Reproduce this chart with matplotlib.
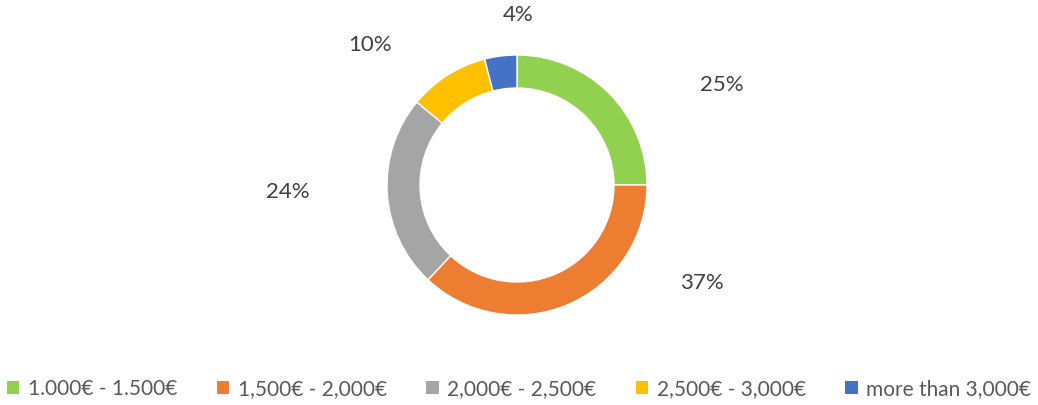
import matplotlib.pyplot as plt
from matplotlib.patches import Patch

categories = ['1.000€ - 1.500€', '1,500€ - 2,000€', '2,000€ - 2,500€',
              '2,500€ - 3,000€', 'more than 3,000€']
shares = [25, 37, 24, 10, 4]
colors = ['#92D050', '#ED7D31', '#A5A5A5', '#FFC000', '#4472C4']

# label spots picked by hand, like the original chart
label_pos = [(1.577, 0.769), (1.423, -0.754), (-1.762, -0.054),
             (-1.131, 1.077), (0.008, 1.308)]

plt.rcParams['font.family'] = ['Lato', 'DejaVu Sans']

fig = plt.figure(figsize=(10.38, 4.05), dpi=100)
ax = fig.add_axes([0, 0, 1, 1])

ax.pie(shares, colors=colors, startangle=90, counterclock=False,
       radius=1, wedgeprops=dict(width=0.254, edgecolor='white', linewidth=1))

for (x, y), v in zip(label_pos, shares):
    ax.text(x, y, '%d%%' % v, ha='center', va='center', fontsize=16, color='#404040')

ax.set_xlim(-517 / 130, (1038 - 517) / 130)
ax.set_ylim(-(405 - 185) / 130, 185 / 130)
ax.set_aspect('auto')
ax.axis('off')

handles = [Patch(facecolor=c, edgecolor='none') for c in colors]
leg = fig.legend(handles, categories, loc='center', bbox_to_anchor=(0.5, 1 - 389 / 405),
                 ncol=5, frameon=False, fontsize=15, handlelength=0.6, handleheight=0.6,
                 handletextpad=0.4, columnspacing=1.9, labelcolor='#595959')

fig.savefig('out.png', dpi=100)
plt.close()
